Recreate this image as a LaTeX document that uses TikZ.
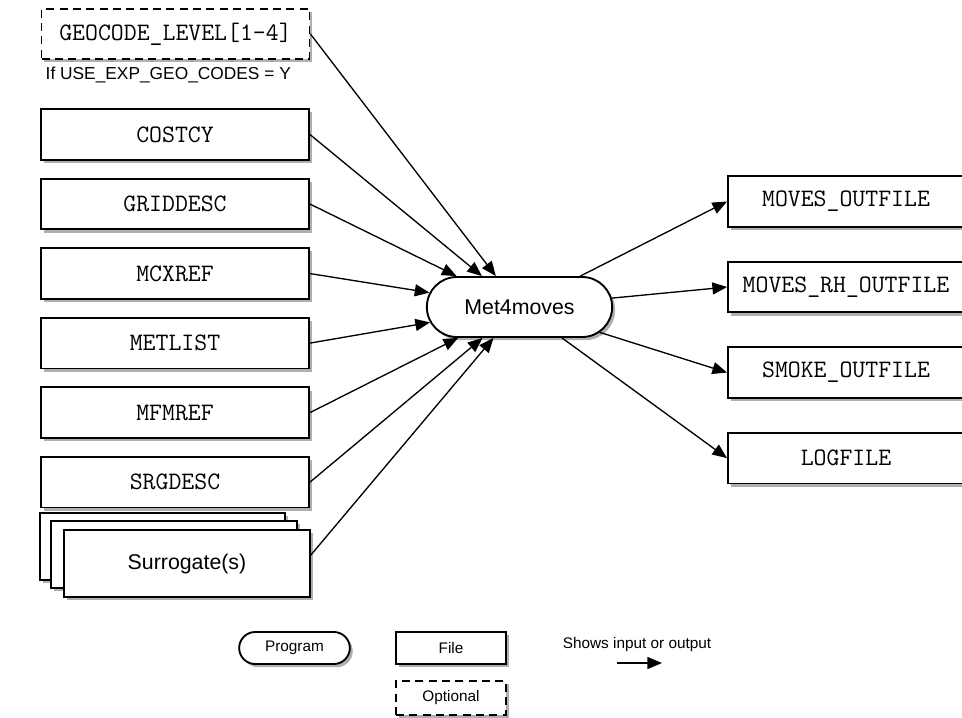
\documentclass[tikz,border=0pt]{standalone}
\usepackage{fontspec}
\setmainfont{Liberation Sans}
\usepackage{tikz}
\usetikzlibrary{positioning,arrows.meta,fit,shapes.misc,shadows}
\definecolor{ink}{HTML}{000000}
\definecolor{shade}{HTML}{7A7A7A}
\tikzset{
  filebox/.style={draw=ink, fill=white, line width=1.4pt, inner sep=0pt,
                  minimum width=201pt, minimum height=38pt,
                  font=\fontsize{18.8}{20}\selectfont\ttfamily,
                  drop shadow={shadow xshift=2.2pt, shadow yshift=-2.4pt,
                               fill=shade, opacity=0.6}},
  optbox/.style={filebox, dash pattern=on 6pt off 4pt},
  outbox/.style={filebox, minimum width=177pt},
  stack/.style={filebox, minimum width=184pt, minimum height=50pt,
                font=\fontsize{16}{19}\selectfont},
  prog/.style={rounded rectangle, draw=ink, fill=white, line width=1.4pt, inner sep=0pt,
               drop shadow={shadow xshift=2.2pt, shadow yshift=-2.4pt,
                            fill=shade, opacity=0.6}},
  ar/.style={-{Triangle[length=11pt,width=9pt]}, line width=1pt, color=ink},
  lbl/.style={font=\fontsize{13}{15}\selectfont},
  leg/.style={font=\fontsize{11.5}{13}\selectfont},
}

\begin{document}
\begin{tikzpicture}[x=0.75pt, y=-0.75pt]
\useasboundingbox (0,0) rectangle (962,717);

% inputs
\node[optbox, minimum height=37.5pt] (geo) at (175.5,34) {GEOCODE\_LEVEL[1-4]};
\node[lbl, anchor=west] (cond) at (41,75) {If USE\_EXP\_GEO\_CODES = Y};

\node[filebox] (costcy) at (175,134.5) {COSTCY};
\node[filebox, below=12.75pt of costcy] (griddesc) {GRIDDESC};
\node[filebox, below=12.75pt of griddesc] (mcxref) {MCXREF};
\node[filebox, below=12.75pt of mcxref] (metlist) {METLIST};
\node[filebox, below=12.75pt of metlist] (mfmref) {MFMREF};
\node[filebox, below=12.75pt of mfmref] (srgdesc) {SRGDESC};

\node[stack] (surb) at (162.5,546.5) {};
\node[stack] (surm) at (174,554.5) {};
\node[stack] (sur) at (187,563.5) {Surrogate(s)};
\node[fit=(surb)(surm)(sur), inner sep=0pt] (surall) {};

% program
\node[prog, minimum width=139pt, minimum height=45pt,
      font=\fontsize{16}{19}\selectfont] (met) at (519.5,307) {Met4moves};

% outputs
\node[outbox] (movesout) at (846,201.5) {MOVES\_OUTFILE};
\node[outbox, below=24.75pt of movesout] (movesrh) {MOVES\_RH\_OUTFILE};
\node[outbox, below=24.75pt of movesrh] (smoke) {SMOKE\_OUTFILE};
\node[outbox, below=24.75pt of smoke] (logfile) {LOGFILE};

\draw[ar] (geo.east) -- (met);
\draw[ar] (costcy.east) -- (met);
\draw[ar] (griddesc.east) -- (met);
\draw[ar] (mcxref.east) -- (met);
\draw[ar] (metlist.east) -- (met);
\draw[ar] (mfmref.east) -- (met);
\draw[ar] (srgdesc.east) -- (met);
\draw[ar] (surall.east) -- (met);

\draw[ar] (met) -- (movesout.west);
\draw[ar] (met) -- (movesrh.west);
\draw[ar] (met) -- (smoke.west);
\draw[ar] (met) -- (logfile.west);

% legend
\node[prog, leg, minimum width=83pt, minimum height=24pt] (legprog) at (294.5,648) {Program};
\node[filebox, leg, minimum width=82.5pt, minimum height=24pt] (legfile) at (451,648) {File};
\node[optbox, leg, minimum width=82.5pt, minimum height=25.5pt] (legopt) at (451,698) {Optional};
\node[leg] (legtxt) at (637,645) {Shows input or output};
\coordinate (legs) at (617,663);
\coordinate (lege) at (662,663);
\draw[ar] (legs) -- (lege);

\end{tikzpicture}
\end{document}
